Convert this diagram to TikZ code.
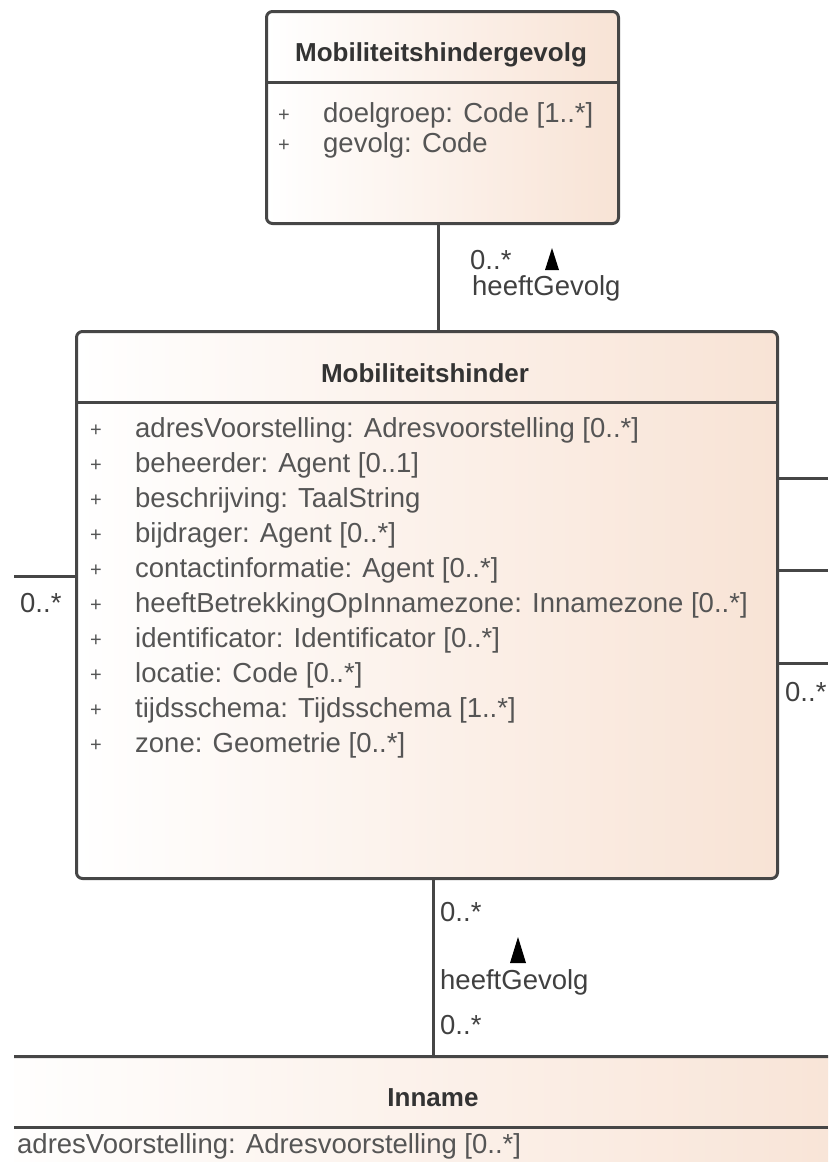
\documentclass[tikz,border=0pt]{standalone}
\usepackage{fontspec}
\setmainfont{Liberation Sans}
\usetikzlibrary{positioning}

\definecolor{peach}{RGB}{248,227,213}
\definecolor{umltext}{RGB}{85,85,85}
\definecolor{umlline}{RGB}{70,70,70}

\begin{document}
\begin{tikzpicture}[x=1pt, y=1pt,
    classbox/.style={draw=umlline, line width=3pt, rounded corners=6pt,
        left color=white, right color=peach, inner sep=0pt, anchor=north west},
    classtitle/.style={font=\fontsize{26}{30}\selectfont\bfseries, text=black!80},
    attr/.style={font=\fontsize{27.5}{30}\selectfont, text=umltext, anchor=west, inner sep=0pt},
    plus/.style={font=\fontsize{20}{24}\selectfont, text=umltext, anchor=west, inner sep=0pt},
    mult/.style={font=\fontsize{27.5}{30}\selectfont, text=black!75, anchor=west, inner sep=0pt},
    link/.style={draw=umlline, line width=3pt}]

    \useasboundingbox (0,0) rectangle (828,-1162);
    \clip (0,0) rectangle (828,-1162);

    % Classes
    \node[classbox, minimum width=352, minimum height=212] (gevolg) at (265,-10) {};
    \node[classbox, minimum width=701, minimum height=547] (hinder) at (75,-330) {};
    \begin{scope}
        \clip (14,-1000) rectangle (828,-1162);
        \node[classbox, minimum width=900, minimum height=200] (inname) at (-20,-1055) {};
    \end{scope}

    % Compartment lines
    \draw[link] (gevolg.west |- 0,-82) -- (gevolg.east |- 0,-82);
    \draw[link] (hinder.west |- 0,-402) -- (hinder.east |- 0,-402);
    \draw[link] (14,-1127) -- (828,-1127);

    % Titles
    \node[classtitle] (gevolgtitle) at (441,-55) {Mobiliteitshindergevolg};
    \node[classtitle] (hindertitle) at (425,-373) {Mobiliteitshinder};
    \node[classtitle] (innametitle) at (433,-1098) {Inname};

    % Attributes
    \foreach \txt [count=\i from 0] in {{doelgroep: Code [1..*]}, {gevolg: Code}} {
        \node[plus] (gplus\i) at (278,-116-30*\i) {+};
        \node[attr] (gattr\i) at (323,-115-30*\i) {\txt};
    }
    \foreach \txt [count=\i from 0] in {%
        {adresVoorstelling: Adresvoorstelling [0..*]},
        {beheerder: Agent [0..1]},
        {beschrijving: TaalString},
        {bijdrager: Agent [0..*]},
        {contactinformatie: Agent [0..*]},
        {heeftBetrekkingOpInnamezone: Innamezone [0..*]},
        {identificator: Identificator [0..*]},
        {locatie: Code [0..*]},
        {tijdsschema: Tijdsschema [1..*]},
        {zone: Geometrie [0..*]}} {
        \node[plus] (hplus\i) at (90,-431-35*\i) {+};
        \node[attr] (hattr\i) at (135,-430-35*\i) {\txt};
    }
    \node[attr] (iattr0) at (17,-1146) {adresVoorstelling: Adresvoorstelling [0..*]};

    % Associations
    \coordinate (toplink) at (438,-222);
    \coordinate (botlink) at (433,-877);
    \draw[link] (toplink) -- (toplink |- hinder.north);
    \draw[link] (botlink) -- (botlink |- 0,-1055);

    \coordinate (leftend) at (14,-576);
    \draw[link] (leftend) -- (hinder.west |- leftend);
    \foreach \y [count=\i] in {-478,-570,-663} {
        \coordinate (rightend\i) at (828,\y);
        \draw[link] (hinder.east |- rightend\i) -- (rightend\i);
    }

    % Multiplicities and roles
    \node[mult] (topmult) at (470,-260) {0..*};
    \node[mult] (toprole) at (472,-288) {heeftGevolg};
    \coordinate (toptri) at (552,-259);
    \fill (toptri) ++(-7,-11) -- ++(14,0) -- ++(-7,22) -- cycle;

    \node[mult] (botmult1) at (440,-912) {0..*};
    \node[mult] (botrole) at (440,-982) {heeftGevolg};
    \node[mult] (botmult2) at (440,-1025) {0..*};
    \coordinate (bottri) at (518,-950);
    \fill (bottri) ++(-8,-13) -- ++(16,0) -- ++(-8,26) -- cycle;

    \node[mult] (leftmult) at (20,-603) {0..*};
    \node[mult] (rightmult) at (785,-692) {0..*};

\end{tikzpicture}
\end{document}
